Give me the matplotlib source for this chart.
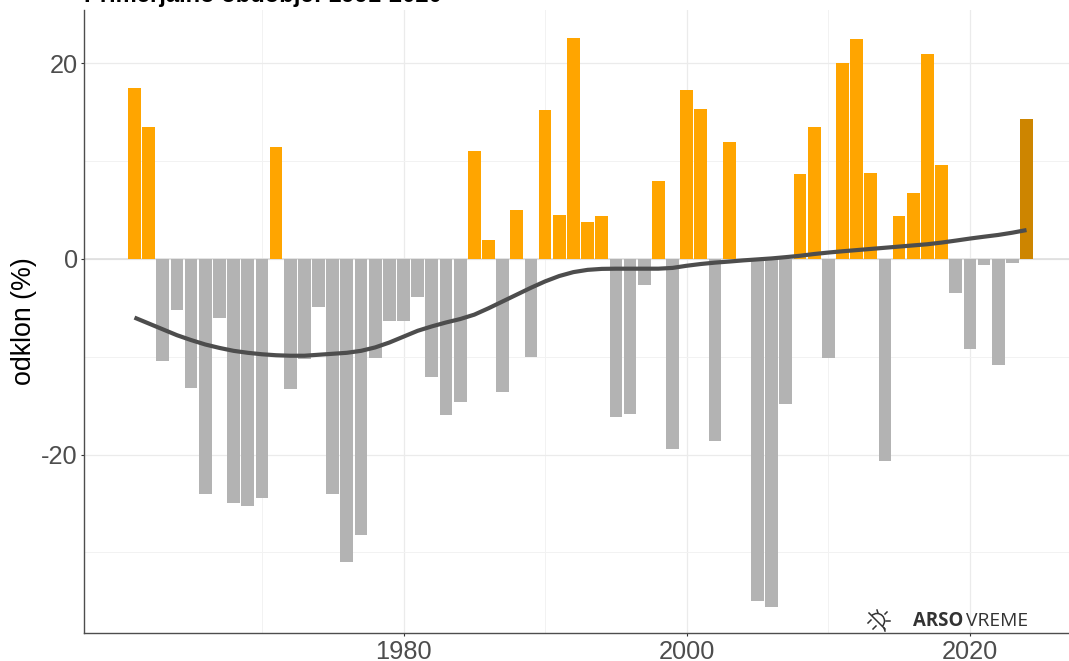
import matplotlib
matplotlib.use("Agg")
import matplotlib.pyplot as plt
from matplotlib.lines import Line2D
from matplotlib.patches import Arc
from matplotlib.transforms import IdentityTransform

WIDTH = 1069
HEIGHT = 661

years = list(range(1961, 2025))
odklon = [
    17.5, 13.5, -10.4, -5.2, -13.2, -24.0, -6.0, -25.0, -25.3, -24.4,
    11.4, -13.3, -10.2, -4.9, -24.0, -31.0, -28.2, -10.1, -6.3, -6.3,
    -3.9, -12.1, -16.0, -14.6, 11.0, 1.9, -13.6, 5.0, -10.0, 15.2,
    4.5, 22.6, 3.8, 4.4, -16.2, -15.9, -2.7, 8.0, -19.4, 17.3,
    15.3, -18.6, 12.0, 0.0, -35.0, -35.6, -14.8, 8.7, 13.5, -10.1,
    20.0, 22.5, 8.8, -20.7, 4.4, 6.7, 21.0, 9.6, -3.5, -9.2,
    -0.6, -10.8, -0.4, 14.3,
]
trend = [
    -6.0, -6.6, -7.2, -7.8, -8.3, -8.75, -9.1, -9.4, -9.6, -9.75,
    -9.85, -9.9, -9.9, -9.8, -9.7, -9.6, -9.4, -9.05, -8.55, -7.95,
    -7.35, -6.9, -6.5, -6.15, -5.7, -5.05, -4.35, -3.65, -2.95, -2.3,
    -1.75, -1.35, -1.12, -1.02, -1.0, -1.0, -1.0, -1.0, -0.92, -0.7,
    -0.52, -0.38, -0.27, -0.15, -0.05, 0.05, 0.18, 0.32, 0.5, 0.65,
    0.78, 0.9, 1.02, 1.14, 1.26, 1.38, 1.5, 1.67, 1.87, 2.08,
    2.27, 2.45, 2.68, 2.95,
]

x_major = [1980, 2000, 2020]
x_minor = [1970, 1990, 2010]
y_major = [-20, 0, 20]
y_minor = [-30, -10, 10]

plt.rcParams['font.family'] = ['Liberation Sans', 'DejaVu Sans']

ICON = "#333333"


def bar_colour(year, value):
    if year == 2024:
        return "#CD8500"
    return "#FFA500" if value > 0 else "#B3B3B3"


def px(x, y):
    return x / WIDTH, 1 - y / HEIGHT


def draw_logo(fig):
    # sun icon, in image pixels (y flipped for display coords)
    segments = [
        ((869, 613), (885, 629)),
        ((877, 610), (878, 613)), ((887, 612), (885, 614)), ((890, 621), (886, 621)),
        ((885, 631), (884, 628)), ((868, 623), (871, 620)), ((873, 629), (876, 626)),
    ]
    for a, b in segments:
        fig.add_artist(Line2D([a[0], b[0]], [HEIGHT - a[1], HEIGHT - b[1]], color=ICON,
                              linewidth=1.1, transform=IdentityTransform()))
    fig.add_artist(Arc((877, HEIGHT - 621), 15, 15, theta1=-45, theta2=135, color=ICON,
                       linewidth=1.1, transform=IdentityTransform()))
    xt, yt = px(913, 621)
    fig.text(xt, yt, "ARSO", family="Open Sans", fontsize=13.4, fontweight="bold",
             color=ICON, va="center", ha="left")
    xt, yt = px(966, 621)
    fig.text(xt, yt, "VREME", family="Open Sans", fontsize=13.9,
             color=ICON, va="center", ha="left")


def main():
    fig = plt.figure(figsize=(WIDTH / 100, HEIGHT / 100), dpi=100)
    ax = fig.add_axes([83.5 / WIDTH, 1 - 633 / HEIGHT, 985.5 / WIDTH, 623 / HEIGHT])

    colours = [bar_colour(y, v) for y, v in zip(years, odklon)]
    ax.bar(years, odklon, width=0.9, color=colours, zorder=2)
    ax.plot(years, trend, color="#4D4D4D", linewidth=3.0, zorder=3, solid_capstyle="butt")
    ax.axhline(0, color="#DEDEDE", linewidth=1.2, zorder=1)

    ax.set_xlim(1957.4, 2027.0)
    ax.set_ylim(-38.25, 25.45)
    ax.set_xticks(x_major)
    ax.set_xticks(x_minor, minor=True)
    ax.set_yticks(y_major)
    ax.set_yticks(y_minor, minor=True)
    ax.grid(which="major", color="#EBEBEB", linewidth=0.9, zorder=0)
    ax.grid(which="minor", color="#F2F2F2", linewidth=0.7, zorder=0)
    ax.set_axisbelow(True)

    ax.tick_params(which="minor", length=0)
    ax.tick_params(which="major", length=2.5, width=0.8, color="#333333",
                   labelsize=18.3, labelcolor="#4D4D4D", pad=1.5)
    ax.tick_params(axis="x", pad=2.5)
    ax.yaxis.set_major_formatter(lambda v, _: f"{v:.0f}")

    ax.spines["top"].set_visible(False)
    ax.spines["right"].set_visible(False)
    for side in ("left", "bottom"):
        ax.spines[side].set_color("#4D4D4D")
        ax.spines[side].set_linewidth(1.0)

    xt, yt = px(24, 321)
    fig.text(xt, yt, "odklon (%)", fontsize=19.3, color="black", rotation=90,
             ha="center", va="center")

    # title sits partly outside the top edge, as in the original
    xt, yt = px(84, 2)
    fig.text(xt, yt, "Primerjalno obdobje: 1991-2020", fontsize=17.1, fontweight="bold",
             color="black", ha="left", va="baseline")

    draw_logo(fig)
    fig.savefig("out.png", dpi=100)


if __name__ == "__main__":
    main()
